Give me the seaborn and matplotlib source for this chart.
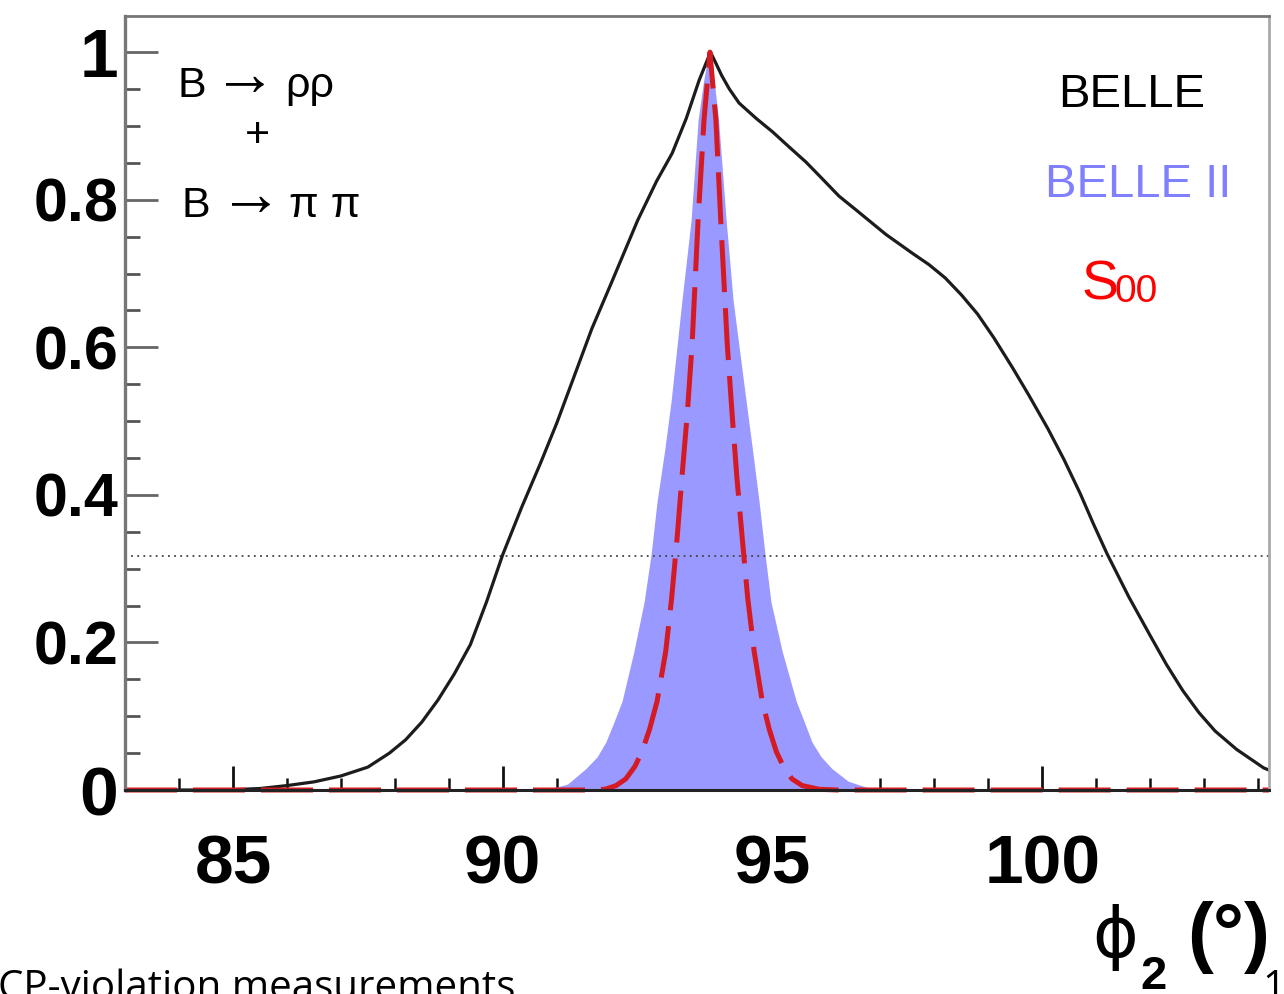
import numpy as np
import pandas as pd
import matplotlib
matplotlib.use("Agg")
import matplotlib.pyplot as plt
import seaborn as sns
from matplotlib.ticker import MultipleLocator, FixedLocator

# ---------------- data ----------------
phi2_belle = [83.0, 84.5, 85.0, 85.5, 86.0, 86.5, 87.0, 87.5, 87.9, 88.2, 88.5,
              88.8, 89.1, 89.4, 89.7, 90.0, 90.35, 90.7, 91.0, 91.3, 91.65,
              92.0, 92.5, 92.85, 93.14, 93.4, 93.64, 93.85,
              93.95, 94.06, 94.2, 94.38, 94.7, 95.0, 95.3, 95.62, 95.9, 96.23,
              96.55, 96.85, 97.1, 97.35, 97.6, 97.9, 98.2, 98.5, 98.8, 99.1,
              99.45, 99.75, 100.1, 100.4, 100.7, 100.95, 101.2, 101.6, 102.0,
              102.3, 102.6, 102.9, 103.2, 103.6, 104.1, 104.2]
cl_belle = [0.0, 0.0, 0.0005, 0.002, 0.006, 0.011, 0.019, 0.031, 0.050, 0.068, 0.092,
            0.122, 0.157, 0.197, 0.255, 0.319, 0.383, 0.443, 0.497, 0.556, 0.625,
            0.685, 0.772, 0.825, 0.863, 0.910, 0.962, 1.0,
            0.985, 0.968, 0.950, 0.931, 0.910, 0.892, 0.872, 0.851, 0.830, 0.805,
            0.786, 0.768, 0.753, 0.740, 0.727, 0.712, 0.694, 0.671, 0.645, 0.613,
            0.572, 0.535, 0.490, 0.448, 0.402, 0.360, 0.320, 0.262, 0.209,
            0.170, 0.135, 0.105, 0.080, 0.055, 0.030, 0.027]

phi2_belle2 = [90.6, 90.9, 91.2, 91.54, 91.75, 91.91, 92.05, 92.21, 92.43, 92.62,
               92.75, 92.86, 93.0, 93.12, 93.32, 93.49, 93.62, 93.72, 93.82,
               93.92, 94.0, 94.14, 94.27, 94.51, 94.63, 94.75, 94.86, 94.97,
               95.18, 95.44, 95.6, 95.73, 95.9, 96.1, 96.4, 96.73, 97.0]
cl_belle2 = [0.0, 0.002, 0.008, 0.029, 0.045, 0.065, 0.09, 0.12, 0.1875, 0.255,
             0.32, 0.391, 0.46, 0.527, 0.663, 0.772, 0.908, 0.96, 1.0,
             0.96, 0.908, 0.772, 0.663, 0.527, 0.46, 0.391, 0.32, 0.255,
             0.1875, 0.12, 0.09, 0.065, 0.045, 0.029, 0.012, 0.004, 0.0]

phi2_s00 = [83.0, 91.6, 91.9, 92.1, 92.28, 92.45, 92.58, 92.72, 92.86, 93.02, 93.13,
            93.23, 93.32, 93.42, 93.51, 93.62, 93.73, 93.84, 93.95, 94.04, 94.16,
            94.25, 94.34, 94.44, 94.54, 94.66, 94.81, 94.94, 95.07, 95.2, 95.36,
            95.55, 95.86, 96.2, 104.2]
cl_s00 = [0.0, 0.0, 0.001, 0.006, 0.015, 0.032, 0.052, 0.082, 0.12, 0.1875, 0.26,
          0.34, 0.423, 0.51, 0.605, 0.772, 0.908, 1.0, 0.908, 0.772, 0.605,
          0.51, 0.423, 0.34, 0.26, 0.1875, 0.12, 0.082, 0.052, 0.032, 0.015,
          0.006, 0.001, 0.0, 0.0]

cl_level = 0.317
x_ticks = [85, 90, 95, 100]
x_tick_labels = ["85", "90", "95", "100"]
y_ticks = [0, 0.2, 0.4, 0.6, 0.8, 1]
y_tick_labels = ["0", "0.2", "0.4", "0.6", "0.8", "1"]

# ---------------- style ----------------
sns.set_theme(style="ticks")
plt.rcParams['font.family'] = ['Liberation Sans', 'DejaVu Sans']

W, H = 1284, 994
fig = plt.figure(figsize=(W / 100, H / 100), dpi=100)
fig.patch.set_facecolor("white")
L, R, T, B = 125, 1269, 16, 790
ax = fig.add_axes([L / W, 1 - B / H, (R - L) / W, (B - T) / H])
ax.set_facecolor("white")

df_belle = pd.DataFrame({"phi2": phi2_belle, "cl": cl_belle})
df_s00 = pd.DataFrame({"phi2": phi2_s00, "cl": cl_s00})

ax.fill_between(phi2_belle2, cl_belle2, 0, color="#9999ff", lw=0, zorder=2)
sns.lineplot(data=df_belle, x="phi2", y="cl", ax=ax, color="#1c1c1c", lw=2.3,
             estimator=None, sort=False, zorder=3)
ax.lines[-1].set_solid_joinstyle("round")
sns.lineplot(data=df_s00, x="phi2", y="cl", ax=ax, color="#d41a22", lw=3.6,
             estimator=None, sort=False, zorder=4)
ax.lines[-1].set_linestyle((0, (10.4, 3.2)))
ax.lines[-1].set_clip_on(False)
ax.axhline(cl_level, color="#444444", lw=1.3, ls=(0, (1, 2.4)), zorder=2.5)

ax.set_xlim(83, 104.2)
ax.set_ylim(0, 1.049)
ax.set_xlabel("")
ax.set_ylabel("")

ax.xaxis.set_major_locator(FixedLocator(x_ticks))
ax.set_xticklabels(x_tick_labels)
ax.xaxis.set_minor_locator(MultipleLocator(1))
ax.yaxis.set_major_locator(FixedLocator(y_ticks))
ax.set_yticklabels(y_tick_labels)
ax.yaxis.set_minor_locator(MultipleLocator(0.05))

ax.tick_params(axis="both", which="both", direction="in", top=False, right=False)
ax.tick_params(axis="x", which="major", length=17, width=2.0, color="#111111",
               pad=31, labelsize=50, labelcolor="black")
ax.tick_params(axis="x", which="minor", length=9, width=1.8, color="#111111")
ax.tick_params(axis="y", which="major", length=24, width=2.0, color="#666666",
               pad=5, labelsize=44, labelcolor="black")
ax.tick_params(axis="y", which="minor", length=11, width=2.0, color="#555555")
for lbl in ax.get_xticklabels() + ax.get_yticklabels():
    lbl.set_fontweight("bold")
for lbl in ax.get_yticklabels():
    if lbl.get_text() in ("0", "1"):
        lbl.set_fontsize(50)

ax.spines["left"].set_color("#777777")
ax.spines["left"].set_linewidth(2.4)
ax.spines["bottom"].set_color("#222222")
ax.spines["bottom"].set_linewidth(2.2)
ax.spines["top"].set_color("#777777")
ax.spines["top"].set_linewidth(2.0)
ax.spines["right"].set_color("#aaaaaa")
ax.spines["right"].set_linewidth(2.0)
for s in ax.spines.values():
    s.set_zorder(5)

def ft(px, py, s, **kw):
    return fig.text(px / W, 1 - py / H, s, va="baseline", **kw)

# process annotation (top left)
ft(178, 97, "B", fontsize=31, color="black")
ft(213, 95, "→", fontsize=46, color="black")
ft(285, 97, "ρρ", fontsize=31, color="black")
ft(257, 147, "+", fontsize=31, color="black", ha="center")
ft(182, 217, "B", fontsize=31, color="black")
ft(219, 215, "→", fontsize=46, color="black")
ft(289, 217, "π π", fontsize=31, color="black")

ft(1058, 107, "BELLE", fontsize=34, color="black")
ft(1045, 197, "BELLE II", fontsize=34, color="#8080ff")
ft(1082, 300, "S", fontsize=40, color="#ff0000")
ft(1115, 302, "00", fontsize=28, color="#ff0000")

# axis title  phi_2 (deg)
ft(1115, 957, "ϕ", fontsize=50, color="black", ha="center", family="DejaVu Sans")
ft(1140, 989, "2", fontsize=34, color="black", fontweight="bold")
ft(1270, 958, "(°)", fontsize=56, color="black", ha="right", fontweight="bold")

# slide footer (cut off at the bottom, as in the reference)
ft(-2, 999, "CP-violation measurements", fontsize=29, color="black", family="Open Sans")
ft(1262, 999, "1", fontsize=29, color="black", family="Open Sans")

fig.savefig("out.png", dpi=100, facecolor="white")
